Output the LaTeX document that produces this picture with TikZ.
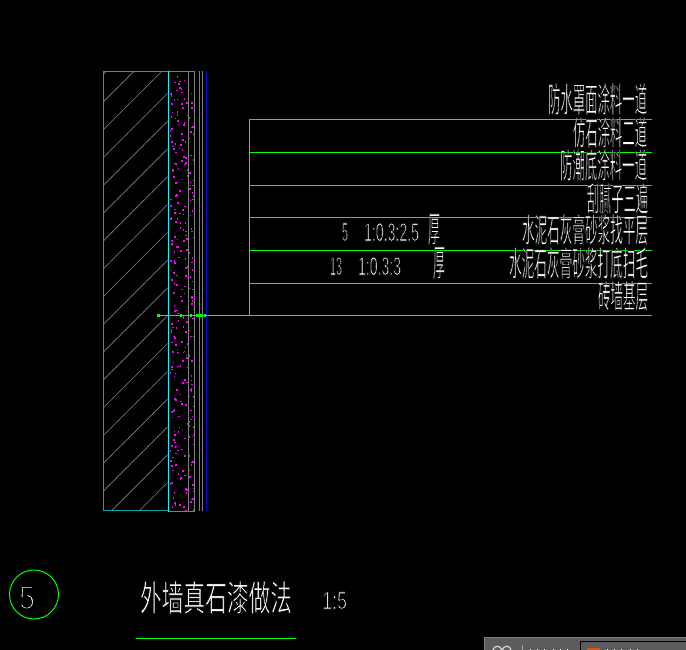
\documentclass[tikz,border=0pt]{standalone}
\usepackage{graphicx}
\usepackage{fontspec}
\setmainfont{Liberation Sans}
\newfontfamily\cjk{Noto Sans CJK SC}
\definecolor{cadgreen}{HTML}{00FF00}
\definecolor{cadteal}{HTML}{12A5A5}
\definecolor{cadcyan}{HTML}{00FFFF}
\definecolor{cadgray}{HTML}{808080}
\definecolor{cadblue}{HTML}{0000E0}
\definecolor{cadpink}{HTML}{FF00FF}
\definecolor{panelgray}{HTML}{5C5C5C}
\definecolor{paneledge}{HTML}{7E7E7E}
\definecolor{orangebox}{HTML}{D9560F}
\tikzset{
  x=1pt,y=-1pt,
  px/.style={line width=1pt},
  greenline/.style={px,draw=cadgreen},
  tealline/.style={px,draw=cadteal},
  grayline/.style={px,draw=cadgray},
  hatchline/.style={line width=0.8pt,draw=cadgray,dash pattern=on 1.2pt off 0.5pt},
  cadtext/.style={anchor=north west,inner sep=0pt,outer sep=0pt,text=white},
}
% thin the glyphs with a black outline, to come near the CAD stroke font
\newcommand{\thinned}[2]{\special{pdf:code 2 Tr 0 0 0 RG #1 w}#2\special{pdf:code 0 Tr}}
% name, left, top, width, height, text
\newcommand{\cadlabel}[6]{\node[cadtext] (#1) at (#2,#3) {\resizebox{#4pt}{#5pt}{#6}};}
\begin{document}
\begin{tikzpicture}
\useasboundingbox (0,0) rectangle (686,650);
\fill[black] (0,0) rectangle (686,650);
% hatch
\begin{scope}
\clip (104,72) rectangle (167.5,510);
\foreach \k in {0,...,18}{
  \pgfmathsetmacro\s{177.5+27.8*\k}
  \draw[hatchline] (\s-600,600) -- (\s,0);
}
\end{scope}
% mortar dots
\pgfmathsetseed{4242}
\foreach \i in {1,...,300}{
  \pgfmathsetmacro\dx{169.5+24*rnd}
  \pgfmathsetmacro\dy{73+1.45*\i+4*rnd}
  \fill[cadpink] (\dx,\dy) rectangle +(1.6,1.6);
}
% wall layers
\draw[tealline] (103.5,510.5) -- (103.5,71.5) -- (194.5,71.5);
\draw[tealline] (103.5,510.5) -- (168.5,510.5);
\draw[tealline] (168.5,511.5) -- (194.5,511.5);
\draw[px,draw=cadcyan] (168.5,71.5) -- (168.5,511.5);
\foreach \lx in {188.5,194.5,199.5,202.5}{\draw[grayline] (\lx,71.5) -- (\lx,511);}
\draw[px,draw=cadblue] (206.5,71.5) -- (206.5,511);
% leaders
\coordinate (top) at (249.5,119.5);
\coordinate (bot) at (249.5,315.5);
\draw[greenline] (bot) -- (top);
\foreach \ly in {119.5,152.5,185.5,217.5,250.5,283.5}{\draw[greenline] (249.5,\ly) -- (652,\ly);}
\draw[greenline] (158.5,315.5) -- (652,315.5);
\foreach \tx in {158.5,181,191,197.5,201.5,205}{\fill[cadgreen] (\tx-1.2,314) rectangle (\tx+1.2,317);}
% labels
\cadlabel{a}{548}{83}{99}{29}{\thinned{0.2}{\cjk 防水罩面涂料一道}}
\cadlabel{b}{573}{117}{74}{28}{\thinned{0.2}{\cjk 仿石涂料二道}}
\cadlabel{c}{560}{149}{87}{29}{\thinned{0.2}{\cjk 防潮底涂料一道}}
\cadlabel{d}{587}{183}{61}{28}{\thinned{0.2}{\cjk 刮腻子三遍}}
\cadlabel{e}{522}{214}{126}{28}{\thinned{0.2}{\cjk 水泥石灰膏砂浆找平层}}
\cadlabel{f}{509}{247}{139}{29}{\thinned{0.2}{\cjk 水泥石灰膏砂浆打底扫毛}}
\cadlabel{g}{598}{281}{50}{27}{\thinned{0.2}{\cjk 砖墙基层}}
\cadlabel{h1}{428}{214}{12}{28}{\thinned{0.2}{\cjk 厚}}
\cadlabel{h2}{433}{247}{12}{29}{\thinned{0.2}{\cjk 厚}}
\cadlabel{n1}{342}{223}{6}{18}{\thinned{0.3}{5}}
\cadlabel{m1}{364}{223}{55}{18}{\thinned{0.3}{1:0.3:2.5}}
\cadlabel{n2}{330}{257}{12}{18}{\thinned{0.3}{13}}
\cadlabel{m2}{358}{257}{43}{18}{\thinned{0.3}{1:0.3:3}}
\cadlabel{t}{140}{581}{152}{30}{\thinned{0.2}{\cjk 外墙真石漆做法}}
\cadlabel{sc}{322}{592}{25}{17}{\thinned{0.35}{1:5}}
% title mark
\node[draw=cadgreen,line width=1pt,circle,minimum size=49pt,inner sep=0pt] (mark) at (34,594.5) {};
\cadlabel{five}{19}{586}{16}{23}{\thinned{0.55}{5}}
\coordinate (ul) at (136,638.5);
\coordinate (ur) at (296,638.5);
\draw[greenline] (ul) -- (ur);
% bottom right window panel
\fill[panelgray] (484,637) rectangle (686,650);
\draw[px,draw=paneledge] (484.5,650) -- (484.5,637.5) -- (686,637.5);
\draw[px,draw=black] (580.5,650) -- (580.5,641.5) -- (686,641.5);
\fill[orangebox] (587,648) rectangle (600,650);
\draw[px,draw=paneledge!70!white] (522.5,645) -- (522.5,650);
\begin{scope}
\clip (484,637) rectangle (686,650);
\draw[line width=1.2pt,white!85!black] (493,650) .. controls (494,645) and (500,645) .. (502,650) .. controls (504,645) and (510,645) .. (511,650);
\foreach \wx in {530,537,544,553,560,567,607,614,621,630,637}{\draw[line width=1pt,white] (\wx,648.5) -- (\wx,650);}
\end{scope}
\end{tikzpicture}
\end{document}
